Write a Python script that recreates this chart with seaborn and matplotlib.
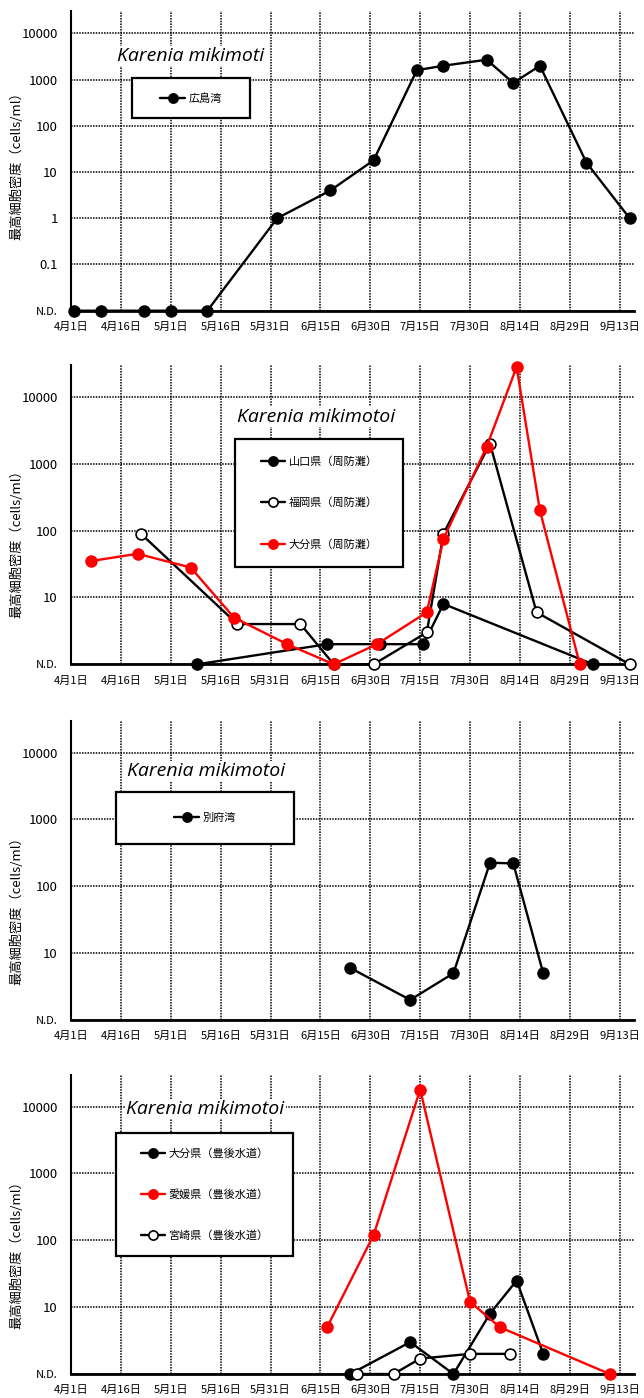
import numpy as np
import pandas as pd
import matplotlib
matplotlib.use("Agg")
import matplotlib.pyplot as plt
import matplotlib.ticker as mticker
from matplotlib.patches import Rectangle
import seaborn as sns

# ---------------- data (0 = N.D.) ----------------
YEAR = "2021"

p1_hiroshima_dates = ["04-02", "04-10", "04-23", "05-01", "05-12", "06-02", "06-18", "07-01",
                      "07-14", "07-22", "08-04", "08-12", "08-20", "09-03", "09-16"]
p1_hiroshima_vals = [0, 0, 0, 0, 0, 1, 4, 18, 1600, 2000, 2700, 850, 2000, 16, 1]

p2_yamaguchi_dates = ["05-09", "06-17", "07-03", "07-16", "07-22", "09-05"]
p2_yamaguchi_vals = [0, 2, 2, 2, 8, 0]
p2_fukuoka_dates = ["04-22", "05-21", "06-09", "06-19", "07-01", "07-17", "07-22", "08-05", "08-19", "09-16"]
p2_fukuoka_vals = [90, 4, 4, 0, 0, 3, 90, 2000, 6, 0]
p2_oita_dates = ["04-07", "04-21", "05-07", "05-20", "06-05", "06-19", "07-02", "07-17", "07-22",
                 "08-04", "08-13", "08-20", "09-01"]
p2_oita_vals = [35, 45, 28, 5, 2, 0, 2, 6, 75, 1800, 28000, 200, 0]

p3_beppu_dates = ["06-24", "07-12", "07-25", "08-05", "08-12", "08-21"]
p3_beppu_vals = [6, 2, 5, 225, 220, 5]

p4_oita_dates = ["06-24", "07-12", "07-25", "08-05", "08-13", "08-21"]
p4_oita_vals = [0, 3, 0, 8, 25, 2]
p4_ehime_dates = ["06-17", "07-01", "07-15", "07-30", "08-08", "09-10"]
p4_ehime_vals = [5, 120, 18000, 12, 5, 0]
p4_miyazaki_dates = ["06-26", "07-07", "07-15", "07-30", "08-11"]
p4_miyazaki_vals = [0, 0, 1.7, 2, 2]

tick_dates = ["04-01", "04-16", "05-01", "05-16", "05-31", "06-15", "06-30",
              "07-15", "07-30", "08-14", "08-29", "09-13"]
tick_labels = ["4月1日", "4月16日", "5月1日", "5月16日", "5月31日", "6月15日", "6月30日",
               "7月15日", "7月30日", "8月14日", "8月29日", "9月13日"]

p1_yticks = [0.01, 0.1, 1, 10, 100, 1000, 10000]
p1_ylabels = ["N.D.", "0.1", "1", "10", "100", "1000", "10000"]
pn_yticks = [1, 10, 100, 1000, 10000]
pn_ylabels = ["N.D.", "10", "100", "1000", "10000"]

ylabel_text = "最高細胞密度（cells/ml）"
title1 = "Karenia mikimoti"
title_n = "Karenia mikimotoi"

p1_legend = ["広島湾"]
p2_legend = ["山口県（周防灘）", "福岡県（周防灘）", "大分県（周防灘）"]
p3_legend = ["別府湾"]
p4_legend = ["大分県（豊後水道）", "愛媛県（豊後水道）", "宮崎県（豊後水道）"]

# ---------------- style ----------------
sns.set_style("white")
plt.rcParams['font.family'] = ['Noto Sans CJK JP', 'DejaVu Sans']
plt.rcParams['axes.unicode_minus'] = False
plt.rcParams['text.color'] = 'black'
plt.rcParams['axes.labelcolor'] = 'black'
plt.rcParams['xtick.color'] = 'black'
plt.rcParams['ytick.color'] = 'black'

RED = "#ff0000"
STYLES = {
    "black": dict(color="black", markerfacecolor="black", markeredgecolor="black"),
    "open": dict(color="black", markerfacecolor="white", markeredgecolor="black"),
    "red": dict(color=RED, markerfacecolor=RED, markeredgecolor=RED),
}


def to_dt(ds):
    return pd.to_datetime([f"{YEAR}-{d}" for d in ds])


x_start = pd.Timestamp(f"{YEAR}-04-01")
x_end = x_start + pd.Timedelta(days=169.3)


def plot_series(ax, dates, vals, nd, style):
    df = pd.DataFrame({"date": to_dt(dates),
                       "density": [nd if v == 0 else v for v in vals]})
    sns.lineplot(data=df, x="date", y="density", ax=ax, marker="o",
                 markersize=7.8, markeredgewidth=1.2, linewidth=1.7,
                 clip_on=False, zorder=4, **STYLES[style])


def setup(ax, nd, yticks, ylabels, ylab_y):
    ax.set_yscale("log")
    ax.set_ylim(nd, 3e4)
    ax.set_xlim(x_start, x_end)
    ax.set_yticks(yticks)
    ax.set_yticklabels(ylabels)
    ax.yaxis.set_minor_locator(mticker.NullLocator())
    ax.set_xticks(to_dt(tick_dates))
    ax.set_xticklabels(tick_labels)
    ax.xaxis.set_minor_locator(mticker.NullLocator())
    ax.grid(True, which="major", color="black", linestyle=(0, (1, 0.8)), linewidth=1.1)
    ax.set_axisbelow(True)
    for s in ["top", "right"]:
        ax.spines[s].set_visible(False)
    ax.spines["left"].set_color("black")
    ax.spines["left"].set_linewidth(1.5)
    ax.spines["bottom"].set_color("black")
    ax.spines["bottom"].set_linewidth(2.0)
    ax.tick_params(axis="y", length=0, pad=9.5, labelsize=9.5, colors="black")
    ax.tick_params(axis="x", length=0, pad=8, labelsize=8, colors="black")
    ax.get_yticklabels()[0].set_fontsize(8)
    ax.set_xlabel("")
    ax.set_ylabel(ylabel_text, fontsize=9.5, color="black")
    ax.yaxis.set_label_coords(-0.0853, ylab_y)


def add_title(ax, text, x, y):
    ax.text(x, y, text, transform=ax.transAxes, ha="center", va="center",
            fontsize=14, style="italic", color="black", family=["Open Sans", "DejaVu Sans"],
            bbox=dict(facecolor="white", edgecolor="none", pad=1), zorder=5)


def add_legend(ax, labels, box, spacing):
    x0, y0, w, h = box
    ax.add_patch(Rectangle((x0, y0), w, h, transform=ax.transAxes, facecolor="white",
                           edgecolor="black", linewidth=1.6, zorder=5, clip_on=False))
    leg = ax.legend(handles=ax.get_lines(), labels=labels, loc="center",
                    bbox_to_anchor=(x0 + w / 2, y0 + h / 2), frameon=False,
                    fontsize=8, labelspacing=spacing, handlelength=2.2,
                    handletextpad=0.3, markerscale=0.85, borderpad=0)
    for t in leg.get_texts():
        t.set_color("black")
    leg.set_zorder(6)


fig = plt.figure(figsize=(6.44, 13.98), dpi=100)
L, W, H = 71 / 644, 563 / 644, 0.2141
bottoms = [1 - 310.7 / 1398, 1 - 664.3 / 1398, 1 - 1020 / 1398, 1 - 1374 / 1398]
axes = [fig.add_axes([L, b, W, H]) for b in bottoms]

# Panel 1
ax = axes[0]
plot_series(ax, p1_hiroshima_dates, p1_hiroshima_vals, 0.01, "black")
setup(ax, 0.01, p1_yticks, p1_ylabels, 0.4945)
add_title(ax, title1, 0.2123, 0.851)
add_legend(ax, p1_legend, (0.1083, 0.643, 0.2096, 0.1335), 1.0)

# Panel 2
ax = axes[1]
plot_series(ax, p2_yamaguchi_dates, p2_yamaguchi_vals, 1, "black")
plot_series(ax, p2_fukuoka_dates, p2_fukuoka_vals, 1, "open")
plot_series(ax, p2_oita_dates, p2_oita_vals, 1, "red")
setup(ax, 1, pn_yticks, pn_ylabels, 0.412)
add_title(ax, title_n, 0.4352, 0.8273)
add_legend(ax, p2_legend, (0.2913, 0.3251, 0.2984, 0.4277), 2.8)

# Panel 3
ax = axes[2]
plot_series(ax, p3_beppu_dates, p3_beppu_vals, 1, "black")
setup(ax, 1, pn_yticks, pn_ylabels, 0.374)
add_title(ax, title_n, 0.2398, 0.832)
add_legend(ax, p3_legend, (0.0799, 0.587, 0.3162, 0.1747), 1.0)

# Panel 4
ax = axes[3]
plot_series(ax, p4_oita_dates, p4_oita_vals, 1, "black")
plot_series(ax, p4_ehime_dates, p4_ehime_vals, 1, "red")
plot_series(ax, p4_miyazaki_dates, p4_miyazaki_vals, 1, "open")
setup(ax, 1, pn_yticks, pn_ylabels, 0.408)
add_title(ax, title_n, 0.2389, 0.8853)
add_legend(ax, p4_legend, (0.0799, 0.3936, 0.3144, 0.4124), 2.7)

fig.savefig("out.png", dpi=100)
